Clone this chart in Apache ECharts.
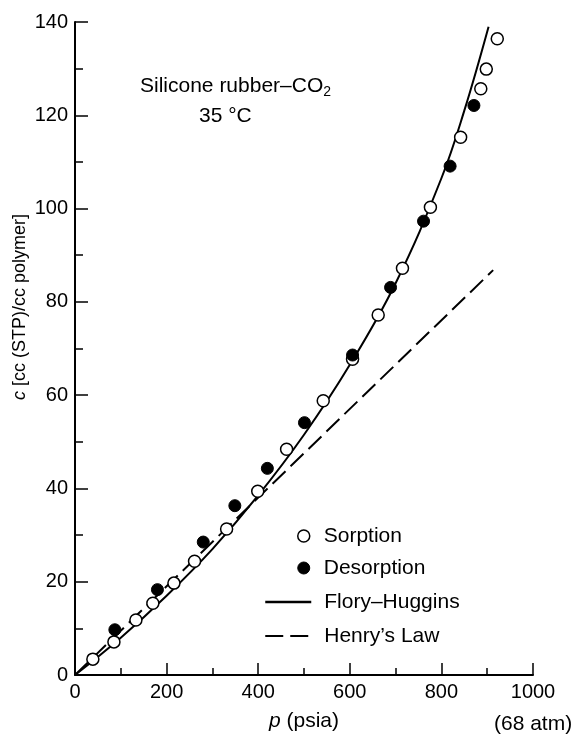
<!DOCTYPE html>
<html>
<head>
<meta charset="utf-8">
<title>Silicone rubber - CO2 sorption</title>
<script src="https://cdn.jsdelivr.net/npm/echarts@6/dist/echarts.min.js"></script>
<style>
  html, body { margin: 0; padding: 0; background: #fff; }
  #chart { width: 575px; height: 737px; }
</style>
</head>
<body>
<div id="chart"></div>
<script>
// p in psia, c in cc(STP)/cc polymer
var sorptionP = [39, 85, 133, 170, 216, 261, 331, 399, 462, 542, 606, 662, 715, 776, 842, 886, 898, 922];
var sorptionC = [3.4, 7.1, 11.8, 15.4, 19.7, 24.4, 31.3, 39.4, 48.4, 58.8, 67.7, 77.2, 87.2, 100.3, 115.3, 125.7, 129.9, 136.4];

var desorptionP = [87, 180, 280, 349, 420, 501, 606, 689, 761, 819, 871];
var desorptionC = [9.7, 18.3, 28.5, 36.3, 44.3, 54.1, 68.6, 83.1, 97.3, 109.1, 122.1];

// Flory-Huggins fit curve
var floryP = [0, 100, 200, 300, 400, 500, 600, 700, 800, 850, 903];
var floryC = [0, 8, 17, 27, 38.5, 51.5, 66.5, 84, 106.5, 121, 139];

// Henry's law straight line
var henryP = [0, 913];
var henryC = [0, 86.8];

var xTicks = [0, 200, 400, 600, 800, 1000];
var yTicks = [0, 20, 40, 60, 80, 100, 120, 140];

function pairs(xs, ys) {
  var out = [];
  for (var i = 0; i < xs.length; i++) out.push([xs[i], ys[i]]);
  return out;
}

var font = '"Liberation Sans", Arial, Helvetica, sans-serif';

var myChart = echarts.init(document.getElementById('chart'));
myChart.setOption({
  animation: false,
  backgroundColor: '#fff',
  color: ['#000'],
  textStyle: { fontFamily: font, color: '#000' },
  grid: { left: 75, right: 42, top: 22, bottom: 61 },
  xAxis: {
    type: 'value',
    min: xTicks[0],
    max: xTicks[xTicks.length - 1],
    interval: 200,
    name: '{i|p} (psia)',
    nameLocation: 'middle',
    nameGap: 36,
    nameTextStyle: {
      fontSize: 21, color: '#000', fontFamily: font,
      rich: { i: { fontSize: 21, fontStyle: 'italic', fontFamily: font } }
    },
    axisLine: { lineStyle: { color: '#000', width: 2 } },
    axisTick: { inside: true, length: 12, lineStyle: { color: '#000', width: 1.5 } },
    minorTick: { show: true, splitNumber: 2, length: 7, lineStyle: { color: '#000', width: 1.5 } },
    axisLabel: {
      fontSize: 20, color: '#000', margin: 7, fontFamily: font,
      formatter: function (v) { return String(v); }
    },
    splitLine: { show: false }
  },
  yAxis: {
    type: 'value',
    min: yTicks[0],
    max: yTicks[yTicks.length - 1],
    interval: 20,
    axisLine: { lineStyle: { color: '#000', width: 2 } },
    axisTick: { inside: true, length: 13, lineStyle: { color: '#000', width: 1.5 } },
    minorTick: { show: true, splitNumber: 2, length: 8, lineStyle: { color: '#000', width: 1.5 } },
    axisLabel: { fontSize: 20, color: '#000', margin: 7, fontFamily: font },
    splitLine: { show: false }
  },
  legend: [
    {
      orient: 'vertical',
      left: 292, top: 520,
      itemWidth: 12, itemHeight: 12, itemGap: 10,
      textStyle: { fontSize: 21, color: '#000', fontFamily: font, padding: [0, 0, 0, 9], lineHeight: 22 },
      data: [
        { name: 'Sorption', icon: 'circle', itemStyle: { color: '#fff', borderColor: '#000', borderWidth: 1.5 } },
        { name: 'Desorption', icon: 'circle', itemStyle: { color: '#000', borderColor: '#000', borderWidth: 1 } }
      ]
    },
    {
      orient: 'vertical',
      left: 259, top: 586,
      itemWidth: 46, itemHeight: 12, itemGap: 12,
      textStyle: { fontSize: 21, color: '#000', fontFamily: font, padding: [0, 0, 0, 8], lineHeight: 22 },
      data: [
        { name: 'Flory\u2013Huggins', itemStyle: { opacity: 0 }, lineStyle: { color: '#000', width: 2.5, type: 'solid' } },
        { name: 'Henry\u2019s Law', itemStyle: { opacity: 0 }, lineStyle: { color: '#000', width: 2, type: [18, 7] } }
      ]
    }
  ],
  graphic: [
    {
      type: 'text', left: 140, top: 76,
      style: {
        text: '{a|Silicone rubber\u2013CO}{s|2}',
        fill: '#000',
        rich: {
          a: { fontSize: 21, fontFamily: font, fill: '#000' },
          s: { fontSize: 14, fontFamily: font, fill: '#000', padding: [12, 0, 0, 0] }
        }
      }
    },
    {
      type: 'text', left: 199, top: 106,
      style: { text: '35 \u00B0C', fontSize: 21, fontFamily: font, fill: '#000' }
    },
    {
      type: 'text', x: 20, y: 307, rotation: Math.PI / 2,
      style: {
        text: '{i|c} [cc (STP)/cc polymer]',
        fontSize: 18, fontFamily: font, fill: '#000',
        align: 'center', verticalAlign: 'middle',
        rich: { i: { fontSize: 18, fontStyle: 'italic', fontFamily: font, fill: '#000' } }
      }
    },
    {
      type: 'text', left: 494, top: 714,
      style: { text: '(68 atm)', fontSize: 21, fontFamily: font, fill: '#000' }
    }
  ],
  series: [
    {
      name: 'Henry\u2019s Law',
      type: 'line',
      data: pairs(henryP, henryC),
      showSymbol: false,
      symbol: 'none',
      itemStyle: { color: '#000' },
      lineStyle: { color: '#000', width: 2, type: [18, 7] },
      z: 2
    },
    {
      name: 'Flory\u2013Huggins',
      type: 'line',
      data: pairs(floryP, floryC),
      smooth: 0.4,
      showSymbol: false,
      symbol: 'none',
      itemStyle: { color: '#000' },
      lineStyle: { color: '#000', width: 2 },
      z: 3
    },
    {
      name: 'Sorption',
      type: 'scatter',
      data: pairs(sorptionP, sorptionC),
      symbol: 'circle',
      symbolSize: 12,
      itemStyle: { color: '#fff', borderColor: '#000', borderWidth: 1.5, opacity: 1 },
      z: 4
    },
    {
      name: 'Desorption',
      type: 'scatter',
      data: pairs(desorptionP, desorptionC),
      symbol: 'circle',
      symbolSize: 12,
      itemStyle: { color: '#000', borderColor: '#000', borderWidth: 1, opacity: 1 },
      z: 5
    }
  ]
});
</script>
</body>
</html>
